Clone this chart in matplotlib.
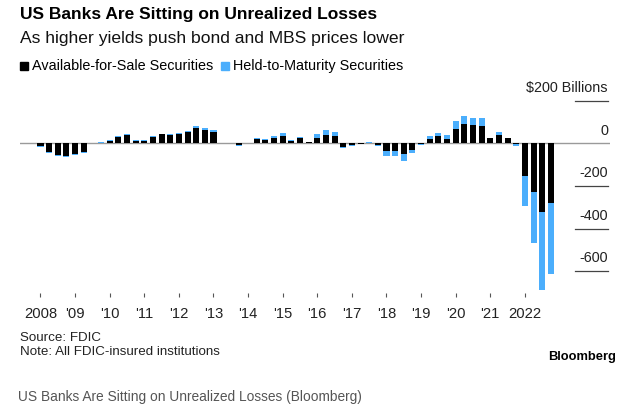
import matplotlib
matplotlib.use("Agg")
import matplotlib.pyplot as plt
from matplotlib.patches import Rectangle
from matplotlib.transforms import blended_transform_factory

# quarterly unrealized gains/losses, $ billions, 2008 Q1 .. 2022 Q4
afs = [-13, -40, -56, -58, -50, -38, 2, 2,
       14, 32, 40, 13, 13, 31, 43, 42,
       46, 54, 73, 65, 55, 2, 2, -5,
       2, 22, 17, 28, 36, 14, 24, 5,
       25, 40, 33, -15, -8, -1, 4, -6,
       -34, -36, -51, -29, -1, 23, 34, 23,
       67, 91, 88, 81, 28, 42, 28, -2,
       -152, -227, -321, -282]
htm = [-2, -4, -4, -5, -6, -7, 2, 3,
       2, 3, 4, 2, 2, 4, 3, 3,
       4, 4, 9, 8, 9, 1, 1, -7,
       1, 5, 3, 8, 13, 3, 7, 3,
       20, 24, 23, -8, -6, -2, 1, -5,
       -24, -22, -32, -18, -7, 12, 16, 19,
       38, 37, 34, 39, 0, 11, 0, -10,
       -143, -240, -368, -333]

year_ticks = list(range(0, 60, 4))
year_labels = ["2008", "'09", "'10", "'11", "'12", "'13", "'14", "'15",
               "'16", "'17", "'18", "'19", "'20", "'21", "2022"]
y_levels = [200, -200, -400, -600]
y_labels = ["$200 Billions", "-200", "-400", "-600"]

BLUE = "#4baefc"
W, H = 622, 409
plt.rcParams['font.family'] = ['Liberation Sans', 'DejaVu Sans']

fig = plt.figure(figsize=(W / 100, H / 100), dpi=100)


def fx(px):
    return px / W


def fy(py):
    return 1 - py / H


ax = fig.add_axes([fx(20), fy(293), fx(590), (293 - 80) / H])
ax.set_xlim(-2.37, 65.84)
ax.set_ylim(-703.5, 298.8)

x = list(range(len(afs)))
ax.bar(x, afs, width=0.7, color="black", zorder=2)
ax.bar(x, htm, width=0.7, bottom=afs, color=BLUE, zorder=2)

ax.axhline(0, color="#9a9a9a", lw=1, zorder=1)

tr = blended_transform_factory(ax.transAxes, ax.transData)
for v, lab in zip(y_levels, y_labels):
    ax.plot([0.9407, 0.9966], [v, v], color="#444444", lw=0.9, transform=tr)
    ax.annotate(lab, xy=(0.9966, v), xycoords=tr, xytext=(0, 4),
                textcoords="offset points", ha="right", va="bottom",
                fontsize=10.4, color="#222222")
ax.annotate("0", xy=(0.9966, 0), xycoords=tr, xytext=(0, 4),
            textcoords="offset points", ha="right", va="bottom",
            fontsize=10.4, color="#222222")

ax.set_xticks(year_ticks, year_labels)
ax.tick_params(axis="x", length=3, width=0.8, color="#555555", pad=7,
               labelsize=10.6, labelcolor="#222222")
ax.set_yticks([])
for s in ax.spines.values():
    s.set_visible(False)

# header
fig.text(fx(20), fy(15), "US Banks Are Sitting on Unrealized Losses",
         fontsize=12.5, fontweight="bold", va="center", ha="left")
fig.text(fx(20), fy(38), "As higher yields push bond and MBS prices lower",
         fontsize=12.6, va="center", ha="left", color="#111111")

# legend
fig.patches.append(Rectangle((fx(20), fy(70)), fx(8), 8 / H, color="black",
                             transform=fig.transFigure))
fig.text(fx(32), fy(66), "Available-for-Sale Securities", fontsize=10.4,
         va="center", ha="left")
fig.patches.append(Rectangle((fx(221), fy(70)), fx(8), 8 / H, color=BLUE,
                             transform=fig.transFigure))
fig.text(fx(233), fy(66), "Held-to-Maturity Securities", fontsize=10.4,
         va="center", ha="left")

# footer
fig.text(fx(20), fy(338), "Source: FDIC", fontsize=9.6, va="center",
         color="#222222")
fig.text(fx(20), fy(352), "Note: All FDIC-insured institutions", fontsize=9.6,
         va="center", color="#222222")
fig.text(fx(616), fy(357), "Bloomberg", fontsize=9.3, fontweight="bold",
         va="center", ha="right")
fig.text(fx(18), fy(397), "US Banks Are Sitting on Unrealized Losses (Bloomberg)",
         fontsize=9.9, va="center", color="#555555")

fig.savefig("out.png", dpi=100)
